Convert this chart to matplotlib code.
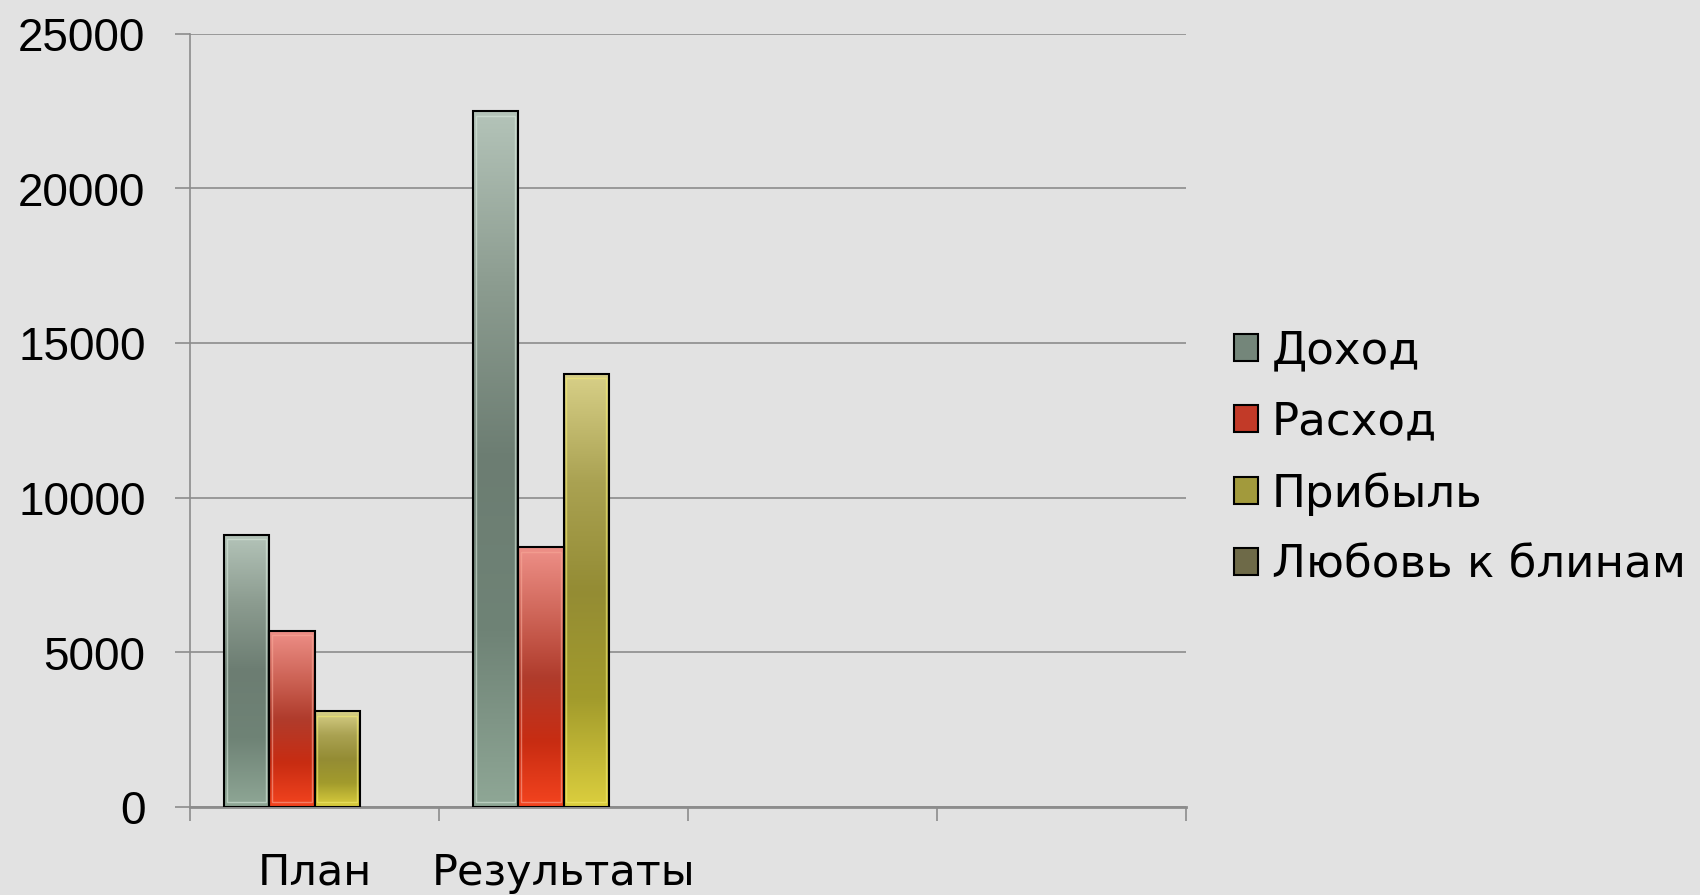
import numpy as np
import matplotlib.pyplot as plt
from matplotlib.colors import LinearSegmentedColormap
from matplotlib.patches import Patch

# data
categories = ['План', 'Результаты', '', '']
series = ['Доход', 'Расход', 'Прибыль', 'Любовь к блинам']
dohod = [8800, 22500, 0, 0]
rashod = [5700, 8400, 0, 0]
pribyl = [3100, 14000, 0, 0]
lyubov = [0, 0, 0, 0]
values = [dohod, rashod, pribyl, lyubov]

# gradient stops top -> bottom for each series
stops = [
    ['#b4c4b9', '#8c9c90', '#6c7d72', '#6f8376', '#8fa796'],
    ['#ee9088', '#d0675a', '#b03c2c', '#c82c12', '#f4441f'],
    ['#d8d088', '#aaa252', '#948c34', '#a29b2c', '#dccf3e'],
    ['#a09c78', '#85805a', '#6e6a48', '#6c6844', '#8c8650'],
]
inner_edge = ['#d8e8dc', '#f8a898', '#f4ec70', '#b0ac88']
legend_colors = ['#74867a', '#c23a28', '#a29a3c', '#6e6a48']

fig = plt.figure(figsize=(17, 8.955), dpi=100, facecolor='#e2e2e2')
ax = fig.add_axes([190/1700, 1-807/895, 996/1700, 773/895])
ax.set_facecolor('none')

n = len(categories)
x = np.arange(n) + 0.5
w = 0.182
grad = np.linspace(0, 1, 256).reshape(-1, 1)

for i, vals in enumerate(values):
    cmap = LinearSegmentedColormap.from_list('g%d' % i, stops[i])
    pos = x + (i - 1.5) * w
    bars = ax.bar(pos, vals, width=w, facecolor='none', edgecolor='black',
                  linewidth=1.5, zorder=4)
    for b, v in zip(bars, vals):
        if v <= 0:
            b.set_visible(False)
            continue
        x0, y0 = b.get_x(), b.get_y()
        im = ax.imshow(grad, cmap=cmap, aspect='auto', origin='upper',
                       extent=[x0, x0 + w, y0, y0 + v], zorder=3,
                       interpolation='bicubic')
        im.set_clip_path(b)
        # light inner rim
        dx = w * 0.06
        dy = 25000 * 0.006
        ax.add_patch(plt.Rectangle((x0 + dx, y0 + dy), w - 2 * dx, v - 2 * dy,
                                   facecolor='none', edgecolor=inner_edge[i],
                                   linewidth=1.0, alpha=0.6, zorder=3.5))

ax.set_xlim(0, n)
ax.set_ylim(0, 25000)

ax.set_yticks(range(0, 25001, 5000))
ax.yaxis.grid(True, color='#8c8c8c', linewidth=1.2)
ax.set_axisbelow(True)
ax.tick_params(axis='y', length=11, width=1.2, color='#8c8c8c', pad=21,
               labelsize=33)
for t in ax.get_yticklabels():
    t.set_fontfamily('Liberation Sans')

ax.set_xticks(np.arange(n + 1))
ax.set_xticklabels([])
ax.set_xticks(x, minor=True)
ax.set_xticklabels(categories, minor=True, fontsize=31, fontfamily='DejaVu Sans')
ax.tick_params(axis='x', which='major', length=10, width=1.2, color='#8c8c8c')
ax.tick_params(axis='x', which='minor', length=0, pad=32)

for s in ['top', 'right']:
    ax.spines[s].set_visible(False)
ax.spines['left'].set_color('#8c8c8c')
ax.spines['left'].set_linewidth(1.2)
ax.spines['bottom'].set_color('#8c8c8c')
ax.spines['bottom'].set_linewidth(2)

handles = [Patch(facecolor=c, edgecolor='black', linewidth=1.5) for c in legend_colors]
fig.legend(handles, series, loc='center left', bbox_to_anchor=(1234/1700, 1-458/895),
           frameon=False, prop={'family': 'DejaVu Sans', 'size': 32.5},
           handlelength=0.54, handleheight=0.54, handletextpad=0.3,
           labelspacing=0.62, borderpad=0, borderaxespad=0)

fig.savefig('out.png', dpi=100, facecolor=fig.get_facecolor())
